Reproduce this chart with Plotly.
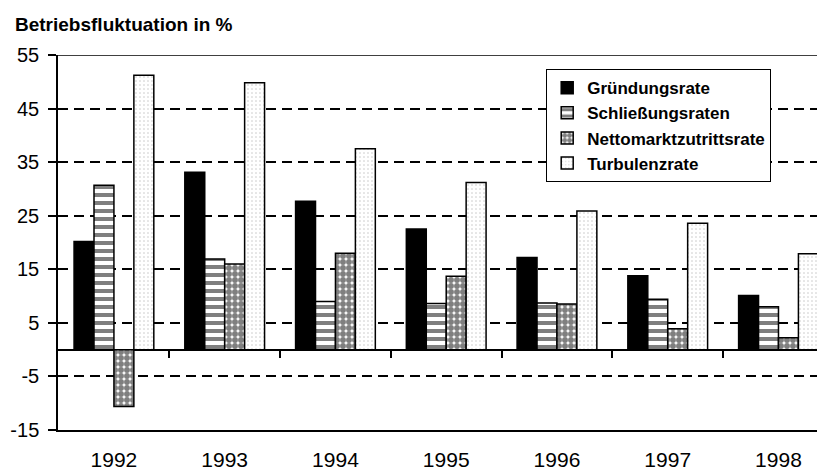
import plotly.graph_objects as go

years = ["1992", "1993", "1994", "1995", "1996", "1997", "1998"]
gruendung = [20.2, 33.1, 27.7, 22.5, 17.2, 13.8, 10.1]
schliessung = [30.7, 16.9, 9.0, 8.6, 8.7, 9.4, 8.0]
netto = [-10.6, 16.0, 18.0, 13.7, 8.5, 3.9, 2.2]
turbulenz = [51.2, 49.8, 37.5, 31.2, 25.9, 23.6, 17.9]
y_ticks = [55, 45, 35, 25, 15, 5, -5, -15]

FONT = "Liberation Sans, Arial, sans-serif"
xpos = list(range(len(years)))
boundaries = [i + 0.5 for i in range(len(years) - 1)]

# page body has an 8px default margin -> figure is drawn at (8, 8)
W, H = 817, 462
ML, MT, MB = 50, 47, 40
PW, PH = W - ML, H - MT - MB

fig = go.Figure()
line = dict(color="black", width=1.5)
fig.add_bar(name="Gründungsrate", x=xpos, y=gruendung,
            marker=dict(color="black", line=line))
fig.add_bar(name="Schließungsraten", x=xpos, y=schliessung,
            marker=dict(color="white", line=line,
                        pattern=dict(shape="-", fgcolor="black", bgcolor="white",
                                     size=8, solidity=0.5, fillmode="overlay")))
fig.add_bar(name="Nettomarktzutrittsrate", x=xpos, y=netto,
            marker=dict(color="white", line=line,
                        pattern=dict(shape=".", fgcolor="black", bgcolor="white",
                                     size=6, solidity=0.75, fillmode="overlay")))
fig.add_bar(name="Turbulenzrate", x=xpos, y=turbulenz,
            marker=dict(color="white", line=line,
                        pattern=dict(shape=".", fgcolor="#8a8a8a", bgcolor="white",
                                     size=4, solidity=0.12, fillmode="overlay")))
# helper trace so the tick axis at the zero line is drawn
fig.add_scatter(x=[], y=[], xaxis="x2", yaxis="y", showlegend=False, hoverinfo="skip")

xr = [-0.505, 6.42]
fig.update_layout(
    width=W, height=H,
    margin=dict(l=ML, r=0, t=MT, b=MB, autoexpand=False),
    paper_bgcolor="white", plot_bgcolor="white",
    barmode="group", bargap=0.28, bargroupgap=0,
    font=dict(family=FONT, color="black", size=18),
    title=dict(text="<b>Betriebsfluktuation in %</b>", x=7 / W, xanchor="left",
               y=1 - 16 / H, yanchor="middle", xref="container", yref="container",
               font=dict(family=FONT, size=19, color="black")),
    xaxis=dict(range=xr, tickvals=xpos, ticktext=years, ticks="",
               showgrid=False, zeroline=False, showline=True, linecolor="black",
               linewidth=1.5, tickfont=dict(size=21, family=FONT),
               ticklabelstandoff=10, automargin=False),
    xaxis2=dict(range=xr, overlaying="x", anchor="free", position=15 / 70,
                side="bottom", tickvals=boundaries, ticks="outside", ticklen=7,
                tickwidth=1.5, tickcolor="black", showticklabels=False,
                showgrid=False, zeroline=False, showline=False, automargin=False),
    yaxis=dict(range=[-15, 55], tickvals=y_ticks, ticktext=[str(v) for v in y_ticks],
               ticks="outside", ticklen=8, tickwidth=1.5, tickcolor="black",
               showgrid=True, gridcolor="black", gridwidth=1.5, griddash="10px,6px",
               zeroline=True, zerolinecolor="black", zerolinewidth=1.5,
               showline=True, linecolor="black", linewidth=1.5,
               tickfont=dict(size=20, family=FONT), ticklabelstandoff=5,
               automargin=False),
    legend=dict(x=(538 - ML) / PW, y=(MT + PH - 61) / PH, xanchor="left", yanchor="top",
                bgcolor="white", bordercolor="black", borderwidth=1.2,
                font=dict(family=FONT, size=17, color="black", weight="bold"),
                itemwidth=30, tracegroupgap=0),
    shapes=[dict(type="line", xref="paper", yref="y", x0=0, x1=1, y0=55, y1=55,
                 line=dict(color="black", width=1.5))],
)

fig.write_html("out.html")
